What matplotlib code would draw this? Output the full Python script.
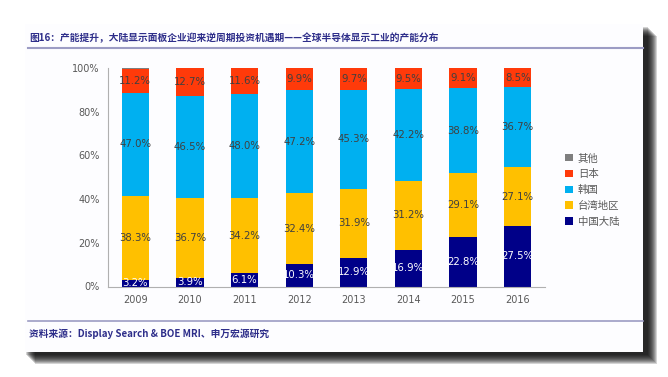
import matplotlib
matplotlib.use("Agg")
import matplotlib.pyplot as plt
from matplotlib.patches import Rectangle, Patch
import numpy as np

plt.rcParams['font.family'] = ['Noto Sans CJK SC', 'DejaVu Sans']

# 数据（%）
years = ['2009', '2010', '2011', '2012', '2013', '2014', '2015', '2016']
china = [3.2, 3.9, 6.1, 10.3, 12.9, 16.9, 22.8, 27.5]
taiwan = [38.3, 36.7, 34.2, 32.4, 31.9, 31.2, 29.1, 27.1]
korea = [47.0, 46.5, 48.0, 47.2, 45.3, 42.2, 38.8, 36.7]
japan = [11.2, 12.7, 11.6, 9.9, 9.7, 9.5, 9.1, 8.5]
other = [0.3, 0.2, 0.1, 0.2, 0.2, 0.2, 0.2, 0.2]

series_names = ['中国大陆', '台湾地区', '韩国', '日本', '其他']
series_vals = [china, taiwan, korea, japan, other]
colors = ['#000088', '#FFC000', '#00B0F0', '#FF3A0A', '#7F7F7F']
label_colors = ['white', '#404040', '#404040', '#404040', None]

W, H = 668, 377
fig = plt.figure(figsize=(W / 100, H / 100), dpi=100)
fig.patch.set_facecolor('white')

# 卡片阴影
for i in range(10):
    off = 10 - i
    fig.patches.append(Rectangle(((25 + off) / W, (377 - 352 - off - 2) / H),
                                 (618 + 4) / W, (328) / H,
                                 transform=fig.transFigure, facecolor='black',
                                 alpha=0.17, edgecolor='none', zorder=0))
# 卡片
fig.patches.append(Rectangle((25 / W, (377 - 352) / H), 618 / W, 328 / H,
                             transform=fig.transFigure, facecolor='#FDFDFF',
                             edgecolor='none', zorder=1))

# 标题与分隔线
fig.text(29 / W, 1 - 38 / H,
         '图16：产能提升，大陆显示面板企业迎来逆周期投资机遇期——全球半导体显示工业的产能分布',
         fontsize=7.0, fontweight='bold', color='#2E2E8A', va='center', ha='left', zorder=3)
fig.add_artist(plt.Line2D([28 / W, 643 / W], [1 - 48 / H, 1 - 48 / H],
                          color='#9C9CC4', lw=1.5, transform=fig.transFigure, zorder=3))
fig.add_artist(plt.Line2D([28 / W, 643 / W], [1 - 321 / H, 1 - 321 / H],
                          color='#9C9CC4', lw=1.2, transform=fig.transFigure, zorder=3))
fig.text(29 / W, 1 - 334 / H, '资料来源：Display Search & BOE MRI、申万宏源研究',
         fontsize=7, fontweight='bold', color='#2E2E8A', va='center', ha='left', zorder=3)

ax = fig.add_axes([108 / W, (377 - 286.5) / H, 437 / W, 218.5 / H])
ax.set_facecolor('none')
ax.set_zorder(2)

x = np.arange(len(years))
bottom = np.zeros(len(years))
handles = []
for name, vals, c, lc in zip(series_names, series_vals, colors, label_colors):
    vals = np.array(vals)
    bars = ax.bar(x, vals, 0.5, bottom=bottom, color=c, edgecolor='none')
    if lc is not None:
        for xi, b, v in zip(x, bottom, vals):
            ax.text(xi, b + v / 2, f'{v:.1f}%', ha='center', va='center',
                    fontsize=7.3, color=lc, family='DejaVu Sans')
    bottom += vals
    handles.append(Patch(facecolor=c, label=name))

ax.set_xlim(-0.5, len(years) - 0.5)
ax.set_ylim(0, 100)
ax.set_yticks(np.arange(0, 101, 20))
ax.set_yticklabels([f'{t}%' for t in range(0, 101, 20)])
ax.set_xticks(x)
ax.set_xticklabels(years)
ax.tick_params(axis='both', length=0, labelsize=7, colors='#595959', pad=6)
for lab in ax.get_xticklabels() + ax.get_yticklabels():
    lab.set_family('DejaVu Sans')
for s in ['top', 'right']:
    ax.spines[s].set_visible(False)
for s in ['left', 'bottom']:
    ax.spines[s].set_color('#B0B0B0')
    ax.spines[s].set_linewidth(0.8)

leg = fig.legend(handles[::-1], series_names[::-1], loc='upper left',
                 bbox_to_anchor=(556 / W, 1 - 144 / H), frameon=False,
                 fontsize=7.5, handlelength=0.7, handleheight=0.7,
                 handletextpad=0.5, labelspacing=0.55, labelcolor='#595959')
leg.set_zorder(4)

fig.savefig('out.png', dpi=100)
